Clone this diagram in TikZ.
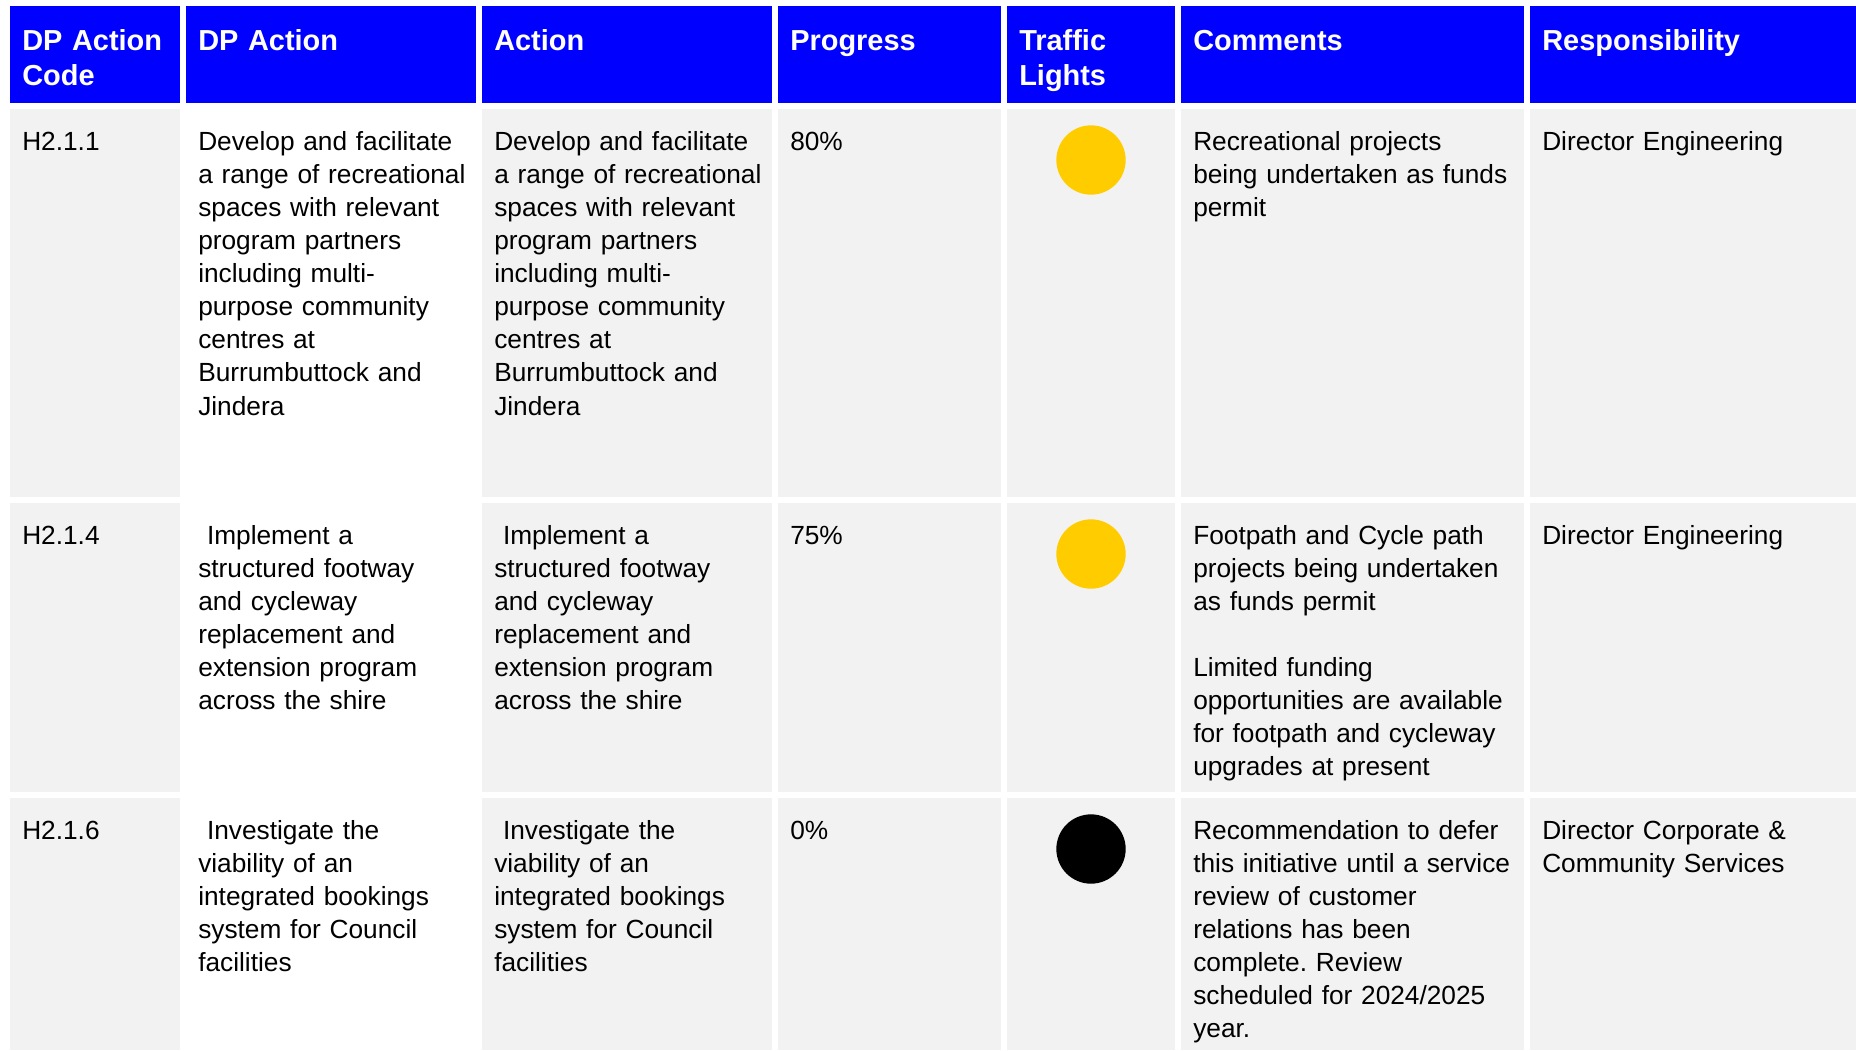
\documentclass[tikz,border=0pt]{standalone}
\usepackage{fontspec}
\setmainfont{Liberation Sans}
\frenchspacing
\usetikzlibrary{positioning}
\definecolor{headblue}{HTML}{0000FF}
\definecolor{cellgray}{HTML}{F2F2F2}
\definecolor{amber}{HTML}{FFCC00}
\tikzset{
   cell/.style = {%
    shape=rectangle,
    anchor=north west,
    inner sep=0pt, outer sep=0pt,
    fill=#1},
   body/.style = {%
    inner sep=0pt,
    text width=250pt,
    align=left,
    font=\fontsize{19.7}{24.85}\selectfont},
   head/.style = {%
    body,
    text=white,
    font=\bfseries\fontsize{21.7}{26.25}\selectfont},
   in cell/.style = {below right=30.75pt and 9pt of #1.north west, anchor=base west},
   in head/.style = {below right=33pt and 9pt of #1.north west, anchor=base west},
   light/.style = {circle, fill=#1, minimum size=52pt, inner sep=0pt},
}
\begin{document}
\begin{tikzpicture}[x=0.75pt, y=-0.75pt]
    \useasboundingbox (0,0) rectangle (1856,1050);
    % backgrounds of the header and of the cells
    \foreach \cx/\cw/\cf [count=\c] in {10/170/cellgray,186/290/white,482/290/cellgray,778/223/cellgray,1007/168/cellgray,1181/343/cellgray,1530/326/cellgray}{
        \node[cell=headblue, minimum width=\cw*0.75pt, minimum height=72.75pt] (h-\c) at (\cx,6) {};
        \foreach \ry/\rh [count=\r] in {109/388,503/289,798/252}
            \node[cell=\cf, minimum width=\cw*0.75pt, minimum height=\rh*0.75pt] (c-\r-\c) at (\cx,\ry) {};
    }
    % header
    \node[head, in head=h-1] (ht-1) {DP Action\\Code};
    \node[head, in head=h-2] (ht-2) {DP Action};
    \node[head, in head=h-3] (ht-3) {Action};
    \node[head, in head=h-4] (ht-4) {Progress};
    \node[head, in head=h-5] (ht-5) {Traffic\\Lights};
    \node[head, in head=h-6] (ht-6) {Comments};
    \node[head, in head=h-7] (ht-7) {Responsibility};
    % row 1
    \node[body, in cell=c-1-1] (t-1-1) {H2.1.1};
    \node[body, in cell=c-1-2] (t-1-2) {Develop and facilitate\\a range of recreational\\spaces with relevant\\program partners\\including multi-\\purpose community\\centres at\\Burrumbuttock and\\Jindera};
    \node[body, in cell=c-1-3] (t-1-3) {Develop and facilitate\\a range of recreational\\spaces with relevant\\program partners\\including multi-\\purpose community\\centres at\\Burrumbuttock and\\Jindera};
    \node[body, in cell=c-1-4] (t-1-4) {80\%};
    \node[light=amber, below=38.25pt of c-1-5.north, anchor=center] (tl-1) {};
    \node[body, in cell=c-1-6] (t-1-6) {Recreational projects\\being undertaken as funds\\permit};
    \node[body, in cell=c-1-7] (t-1-7) {Director Engineering};
    % row 2
    \node[body, in cell=c-2-1] (t-2-1) {H2.1.4};
    \node[body, in cell=c-2-2] (t-2-2) {~Implement a\\structured footway\\and cycleway\\replacement and\\extension program\\across the shire};
    \node[body, in cell=c-2-3] (t-2-3) {~Implement a\\structured footway\\and cycleway\\replacement and\\extension program\\across the shire};
    \node[body, in cell=c-2-4] (t-2-4) {75\%};
    \node[light=amber, below=38.25pt of c-2-5.north, anchor=center] (tl-2) {};
    \node[body, in cell=c-2-6] (t-2-6) {Footpath and Cycle path\\projects being undertaken\\as funds permit\\[\baselineskip]Limited funding\\opportunities are available\\for footpath and cycleway\\upgrades at present};
    \node[body, in cell=c-2-7] (t-2-7) {Director Engineering};
    % row 3
    \node[body, in cell=c-3-1] (t-3-1) {H2.1.6};
    \node[body, in cell=c-3-2] (t-3-2) {~Investigate the\\viability of an\\integrated bookings\\system for Council\\facilities};
    \node[body, in cell=c-3-3] (t-3-3) {~Investigate the\\viability of an\\integrated bookings\\system for Council\\facilities};
    \node[body, in cell=c-3-4] (t-3-4) {0\%};
    \node[light=black, below=38.25pt of c-3-5.north, anchor=center] (tl-3) {};
    \node[body, in cell=c-3-6] (t-3-6) {Recommendation to defer\\this initiative until a service\\review of customer\\relations has been\\complete. Review\\scheduled for 2024/2025\\year.};
    \node[body, in cell=c-3-7] (t-3-7) {Director Corporate \&\\Community Services};
\end{tikzpicture}
\end{document}
